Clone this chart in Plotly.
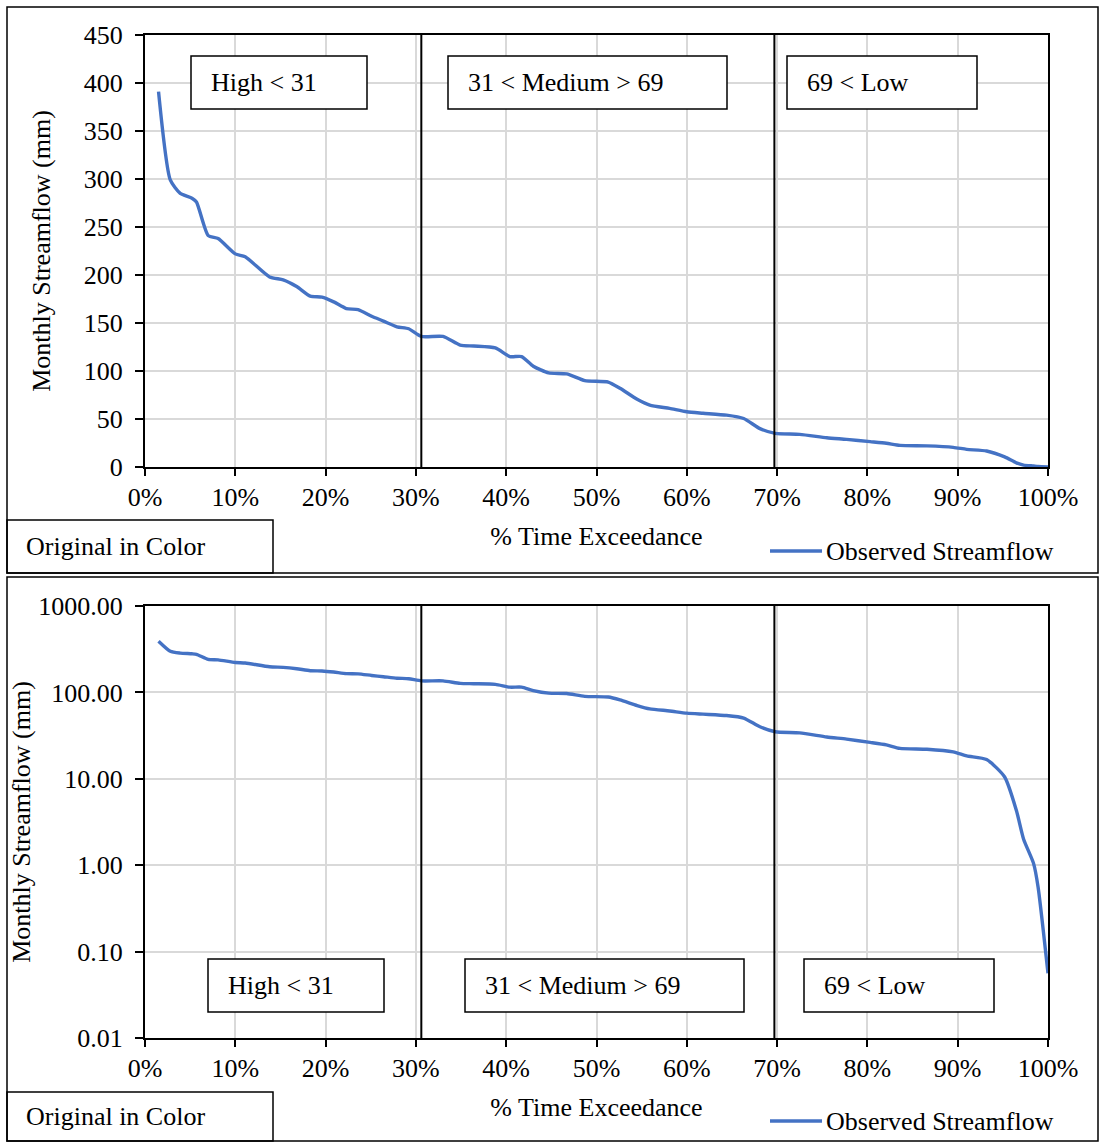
import plotly.graph_objects as go

# flow duration curve
exceed_pct = [1.5, 2.8, 3.9, 5.2, 5.7, 7.0, 8.1, 10.0, 11.1, 13.8, 15.3, 16.8, 18.3, 19.6,
              20.9, 22.3, 23.6, 25.1, 26.4, 27.9, 29.2, 30.6, 33.0, 34.9, 36.4, 38.8, 40.4,
              41.7, 43.0, 44.7, 46.7, 48.7, 51.3, 52.6, 54.5, 55.9, 58.1, 60.0, 61.8, 64.4,
              66.3, 68.1, 69.8, 72.5, 75.5, 77.7, 80.3, 82.1, 83.6, 86.6, 89.5, 91.0, 93.2,
              95.2, 96.5, 97.3, 98.4, 98.9, 100.0]
flow_mm = [391, 299, 285, 280, 276, 241, 238, 222, 219, 198, 195, 188, 178, 177,
           172, 165, 164, 157, 152, 146, 144, 136, 136, 127, 126, 124, 115,
           115, 105, 98, 97, 90, 88.5, 82, 70.5, 64.5, 61, 57.5, 56, 54,
           50.5, 40, 35, 34, 30.5, 28.8, 26.4, 24.7, 22.5, 22, 20.5, 18.4, 16.7,
           10.5, 4.3, 2.0, 1.05, 0.56, 0.056]

thresholds = [30.6, 69.7]
zone_labels = ["High < 31", "31 < Medium > 69", "69 < Low"]
x_ticks = list(range(0, 101, 10))
x_text = [f"{v}%" for v in x_ticks]
lin_ticks = list(range(0, 451, 50))
log_ticks = [0.01, 0.1, 1, 10, 100, 1000]
log_text = ["0.01", "0.10", "1.00", "10.00", "100.00", "1000.00"]

W, H = 1099, 1142
FONT = "Liberation Serif"
FS = 26
BLUE = "#4472C4"


def px(x):
    return x / W


def py(y):
    return 1 - y / H


fig = go.Figure()
for xa, ya in [("x", "y"), ("x2", "y2")]:
    fig.add_trace(go.Scatter(x=exceed_pct, y=flow_mm, mode="lines", name="Observed Streamflow",
                             line=dict(color=BLUE, width=3.4, shape="spline", smoothing=0.6),
                             xaxis=xa, yaxis=ya, showlegend=False))

xdom = [px(145), px(1048)]
xcommon = dict(range=[0, 100], tickvals=x_ticks, ticktext=x_text, automargin=False,
               showgrid=True, gridcolor="#d9d9d9", gridwidth=2,
               showline=True, linecolor="black", linewidth=2, mirror=True,
               ticks="outside", ticklen=7, tickcolor="black", tickwidth=1.5,
               ticklabelstandoff=-1,
               tickfont=dict(size=FS, color="black"), zeroline=False,
               title=dict(text="% Time Exceedance", font=dict(size=FS, color="black"), standoff=16))
ycommon = dict(showgrid=True, gridcolor="#d9d9d9", gridwidth=2, automargin=False,
               showline=True, linecolor="black", linewidth=2, mirror=True,
               ticks="outside", ticklen=8, tickcolor="black", tickwidth=1.5,
               ticklabelstandoff=7,
               tickfont=dict(size=FS, color="black"), zeroline=False)
ytitle = "Monthly Streamflow (mm)"

fig.update_layout(
    template="none",
    width=W, height=H, autosize=False, margin=dict(l=0, r=0, t=0, b=0, pad=0),
    paper_bgcolor="white", plot_bgcolor="white",
    font=dict(family=FONT, color="black"),
    showlegend=False,
    xaxis=dict(domain=xdom, anchor="y", **xcommon),
    yaxis=dict(domain=[py(467), py(35)], anchor="x", range=[0, 450], tickvals=lin_ticks,
               title=dict(text=ytitle, font=dict(size=FS, color="black"), standoff=26),
               **ycommon),
    xaxis2=dict(domain=xdom, anchor="y2", **xcommon),
    yaxis2=dict(domain=[py(1038), py(606)], anchor="x2", type="log", range=[-2, 3],
                tickvals=log_ticks, ticktext=log_text,
                title=dict(text=ytitle, font=dict(size=FS, color="black"), standoff=0),
                **ycommon),
)

# regime boundaries
for xa, ya in [("x", "y"), ("x2", "y2")]:
    for t in thresholds:
        fig.add_shape(type="line", xref=xa, yref=ya + " domain", x0=t, x1=t, y0=0, y1=1,
                      line=dict(color="black", width=2))

# zone label boxes
boxes_top = [(191, 367), (448, 727), (787, 977)]
boxes_bot = [(208, 384), (465, 744), (804, 994)]
for boxes, (y0, y1) in [(boxes_top, (56, 109)), (boxes_bot, (959, 1012))]:
    for (x0, x1), lab in zip(boxes, zone_labels):
        fig.add_shape(type="rect", xref="paper", yref="paper",
                      x0=px(x0), x1=px(x1), y0=py(y1), y1=py(y0),
                      line=dict(color="black", width=1.5), fillcolor="white")
        fig.add_annotation(xref="paper", yref="paper", x=px(x0 + 18), y=py((y0 + y1) / 2),
                           text=lab, showarrow=False, xanchor="left", yanchor="middle",
                           font=dict(size=FS, color="black"))

# outer frames, "Original in Color" tags and legend keys
for fy0, fy1, ty0, ty1, ly in [(7, 573, 520, 573, 551), (577, 1141, 1092, 1141, 1121)]:
    fig.add_shape(type="rect", xref="paper", yref="paper", x0=px(7), x1=px(1098),
                  y0=py(fy1), y1=py(fy0), line=dict(color="black", width=1.5), layer="below")
    fig.add_shape(type="rect", xref="paper", yref="paper", x0=px(7), x1=px(273),
                  y0=py(ty1), y1=py(ty0), line=dict(color="black", width=1.5))
    fig.add_annotation(xref="paper", yref="paper", x=px(24), y=py((ty0 + ty1) / 2),
                       text="Original in Color", showarrow=False, xanchor="left",
                       yanchor="middle", font=dict(size=FS, color="black"))
    fig.add_shape(type="line", xref="paper", yref="paper", x0=px(770), x1=px(822),
                  y0=py(ly), y1=py(ly), line=dict(color=BLUE, width=3.4))
    fig.add_annotation(xref="paper", yref="paper", x=px(824), y=py(ly),
                       text="Observed Streamflow", showarrow=False, xanchor="left",
                       yanchor="middle", font=dict(size=FS, color="black"))

fig.write_html("out.html", config={"displayModeBar": False},
               post_script="document.body.style.margin='0';document.body.style.overflow='hidden';")
